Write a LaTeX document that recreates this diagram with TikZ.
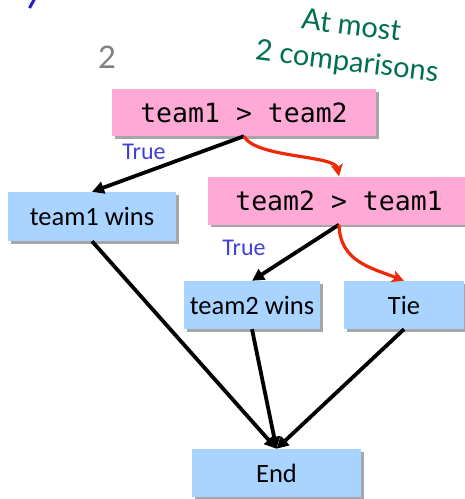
\documentclass[tikz,border=0pt]{standalone}
\usepackage{fontspec}
\setmainfont{Carlito}
\newfontfamily\gillfont{Lato}
\newfontfamily\monofont{DejaVu Sans Mono}
\usetikzlibrary{arrows.meta,shadows}
\definecolor{boxpink}{RGB}{255,170,214}
\definecolor{boxblue}{RGB}{168,212,255}
\definecolor{truecol}{RGB}{64,64,214}
\definecolor{notecol}{RGB}{0,112,80}
\definecolor{redarr}{RGB}{240,40,10}
\definecolor{titleblue}{RGB}{40,30,200}
\begin{document}
\begin{tikzpicture}[x=1pt,y=-1pt,
  shadowed/.style={drop shadow={shadow xshift=2.5pt,shadow yshift=-2.5pt,fill=black,opacity=0.35}},
  condbox/.style={fill=boxpink,shadowed,inner sep=0pt,font=\monofont\fontsize{26.5}{30}\selectfont},
  outbox/.style={fill=boxblue,shadowed,inner sep=0pt,font=\fontsize{26.5}{30}\selectfont},
  truelabel/.style={text=truecol,inner sep=0pt,font=\fontsize{24}{26}\selectfont},
  blackarrow/.style={line width=3.8pt,-{Triangle[length=12pt,width=12pt]}},
  redarrow/.style={draw=redarr,line width=3.2pt,-{Stealth[length=12pt,width=12pt,inset=3pt]}}
]
\useasboundingbox (0,0) rectangle (465,499);
\fill[white] (0,0) rectangle (465,499);
\draw[titleblue,line width=3pt] (34.5,-1) -- (29.5,8);

\node[text=black!50,inner sep=0pt,font=\gillfont\fontsize{31}{33}\selectfont] (two) at (107,57) {2};
\node[text=notecol,inner sep=0pt,align=center,rotate=-7,
  font=\gillfont\fontsize{29}{36}\selectfont] (note) at (349,45) {At most\\2 comparisons};

\node[condbox,minimum width=264pt,minimum height=47pt] (c1) at (244,112.5) {team1 > team2};
\node[condbox,minimum width=262pt,minimum height=48pt] (c2) at (339,200.5) {team2 > team1};
\node[outbox,minimum width=168pt,minimum height=49pt] (w1) at (92,216.5) {team1 wins};
\node[outbox,minimum width=136pt,minimum height=48pt] (w2) at (252,305) {team2 wins};
\node[outbox,minimum width=120pt,minimum height=48pt] (tie) at (404,305) {Tie};
\node[outbox,minimum width=169pt,minimum height=48pt] (end) at (276.5,473) {End};

\node[truelabel] (t1) at (144,152) {True};
\node[truelabel] (t2) at (244,248) {True};

\draw[blackarrow] (c1.south) -- (w1.north);
\draw[redarrow] (c1.south) .. controls (255,158) and (335,155) .. (c2.north);
\draw[blackarrow] (c2.south) -- (w2.north);
\draw[redarrow] (c2.south) .. controls (340,262) and (372,268) .. (tie.north);
\draw[blackarrow] (w1.south) -- (end.north);
\draw[blackarrow] (w2.south) -- (end.north);
\draw[blackarrow] (tie.south) -- (end.north);
\end{tikzpicture}
\end{document}
